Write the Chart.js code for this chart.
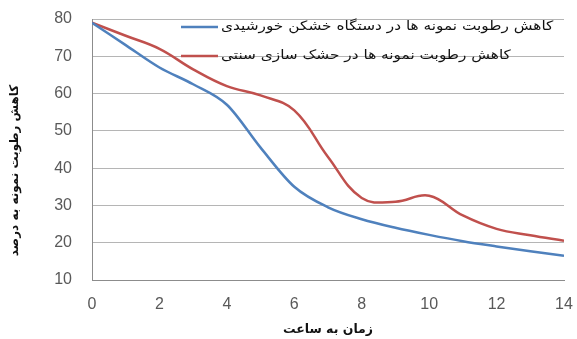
<!DOCTYPE html>
<html>
<head>
<meta charset="utf-8">
<script src="https://cdn.jsdelivr.net/npm/chart.js@4"></script>
<style>
  html, body { margin: 0; padding: 0; background: #fff; }
  #wrap { width: 577px; height: 339px; }
</style>
</head>
<body>
<div id="wrap"><canvas id="c" width="577" height="339"></canvas></div>
<script>
// Drying time in hours
const hours = [0, 1, 2, 3, 4, 5, 6, 7, 8, 9, 10, 11, 12, 13, 14];
// Moisture content (%) in the solar dryer
const solarDryer = [79, 73, 67, 62.5, 57, 45.5, 35, 29.5, 26.3, 24, 22.1, 20.4, 19, 17.7, 16.5];
// Moisture content (%) with traditional drying
const traditionalDrying = [79, 75.5, 72, 66.5, 62, 59.5, 55.5, 43, 32, 31, 32.6, 27.3, 23.7, 22, 20.5];

const seriesNames = [
  'کاهش رطوبت نمونه ها در دستگاه خشکن خورشیدی',
  'کاهش رطوبت نمونه ها در حشک سازی سنتی'
];
const xTitle = 'زمان به ساعت';
const yTitle = 'کاهش رطوبت نمونه به درصد';

const persianFont = '"DejaVu Sans", sans-serif';
const tickFont = '"Liberation Sans", Arial, sans-serif';

// Legend drawn inside the plot area, near the top right
const innerLegend = {
  id: 'innerLegend',
  afterDatasetsDraw(chart) {
    const ctx = chart.ctx;
    const a = chart.chartArea;
    ctx.save();
    chart.data.datasets.forEach((ds, i) => {
      const y = a.top + 8 + i * 29;
      const x0 = a.left + 89;
      ctx.strokeStyle = ds.borderColor;
      ctx.lineWidth = 2.5;
      ctx.beginPath();
      ctx.moveTo(x0, y);
      ctx.lineTo(x0 + 37, y);
      ctx.stroke();
      ctx.save();
      ctx.translate(x0 + 40, y);
      ctx.scale(1.18, 1);
      ctx.fillStyle = '#111';
      ctx.font = '13px ' + persianFont;
      ctx.textBaseline = 'middle';
      ctx.textAlign = 'left';
      ctx.fillText(ds.label, 0, 0);
      ctx.restore();
    });
    ctx.restore();
  }
};

// Rotated y-axis title
const yAxisTitle = {
  id: 'yAxisTitle',
  afterDraw(chart) {
    const ctx = chart.ctx;
    const a = chart.chartArea;
    ctx.save();
    ctx.translate(15, (a.top + a.bottom) / 2 + 21);
    ctx.rotate(-Math.PI / 2);
    ctx.fillStyle = '#111';
    ctx.font = 'bold 12px ' + persianFont;
    ctx.textAlign = 'center';
    ctx.textBaseline = 'middle';
    ctx.fillText(yTitle, 0, 0);
    ctx.restore();
  }
};

new Chart(document.getElementById('c'), {
  type: 'line',
  data: {
    labels: hours,
    datasets: [
      {
        label: seriesNames[0],
        data: hours.map((h, i) => ({ x: h, y: solarDryer[i] })),
        borderColor: '#4f81bd',
        borderWidth: 2.5,
        pointRadius: 0,
        tension: 0.4,
        cubicInterpolationMode: 'monotone',
        fill: false
      },
      {
        label: seriesNames[1],
        data: hours.map((h, i) => ({ x: h, y: traditionalDrying[i] })),
        borderColor: '#c0504d',
        borderWidth: 2.5,
        pointRadius: 0,
        tension: 0.4,
        fill: false
      }
    ]
  },
  options: {
    responsive: false,
    animation: false,
    layout: { autoPadding: false, padding: { left: 0, top: 19, right: 13, bottom: 0 } },
    plugins: {
      legend: { display: false },
      tooltip: { enabled: false }
    },
    scales: {
      x: {
        type: 'linear',
        min: 0,
        max: 14,
        ticks: { stepSize: 2, maxRotation: 0, color: '#595959', font: { family: tickFont, size: 16 }, padding: 2 },
        grid: { display: false, drawTicks: true, tickLength: 13, tickColor: 'rgba(0,0,0,0)' },
        border: { color: '#8c8c8c', width: 1 },
        title: { display: true, text: xTitle, color: '#111', font: { family: persianFont, size: 12.5, weight: 'bold' }, padding: { top: 2, bottom: 2 } },
        afterFit(s) { s.height = 59; }
      },
      y: {
        min: 10,
        max: 80,
        ticks: { stepSize: 10, color: '#595959', font: { family: tickFont, size: 16 }, padding: 2 },
        grid: { color: '#b5b5b5', lineWidth: 1, drawTicks: true, tickLength: 18, tickColor: 'rgba(0,0,0,0)' },
        border: { color: '#8c8c8c', width: 1 },
        afterFit(s) { s.width = 92; }
      }
    }
  },
  plugins: [innerLegend, yAxisTitle]
});
</script>
</body>
</html>
